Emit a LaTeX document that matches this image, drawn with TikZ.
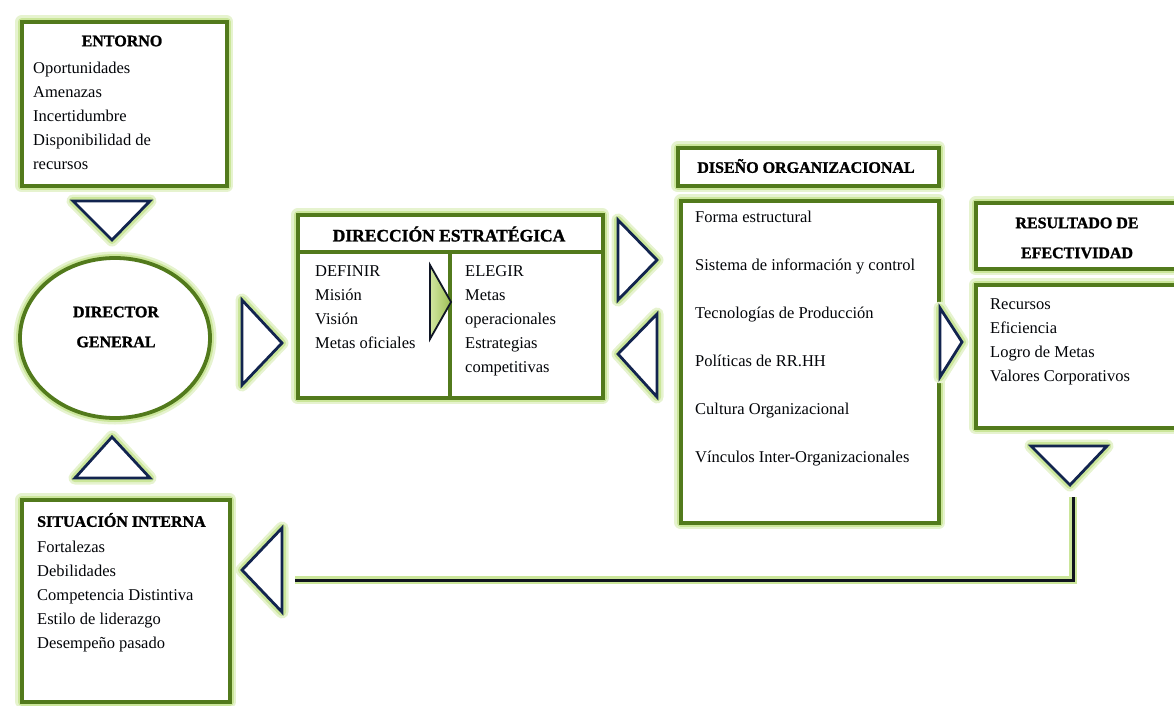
\documentclass[tikz,border=0pt]{standalone}
\usepackage{fontspec}
\setmainfont{Liberation Serif}
\newfontfamily\headfont{Liberation Serif}[BoldFeatures={FakeBold=1.3}]
\usetikzlibrary{shapes.geometric}
\definecolor{olivebd}{HTML}{527A1C}
\definecolor{glowc}{HTML}{CBE69A}
\definecolor{glowd}{HTML}{E6F3CF}
\definecolor{navy}{HTML}{12244F}
\definecolor{trilight}{HTML}{D2E6A0}
\definecolor{tridark}{HTML}{9DBF55}
\definecolor{linec}{HTML}{10141E}
\begin{document}
\begin{tikzpicture}[x=1pt,y=-1pt,
  glowing/.style={preaction={draw=glowd, line width=13pt, line join=round},
                  preaction={draw=glowc, line width=8pt, line join=round}},
  box/.style={draw=olivebd, line width=3.6pt, fill=white, glowing, rectangle, inner sep=0pt, anchor=north west},
  tri/.style={draw=navy, line width=2.8pt, fill=white, line join=miter, glowing},
  head/.style={font=\headfont\fontsize{16}{30}\selectfont\bfseries, inner sep=0pt, align=center},
  body/.style={font=\fontsize{16.5}{24}\selectfont, align=left, inner sep=0pt, anchor=north west, text=black!90!navy},
  feed/.style={draw=linec, line width=3pt, preaction={draw=glowc, line width=8pt}}
]
\useasboundingbox (0,0) rectangle (1174,706);

% ---------- boxes ----------
\node[box, minimum width=205, minimum height=164] (entorno) at (20,20) {};
\node[box, minimum width=208, minimum height=202] (situ) at (20,498) {};
\node[box, minimum width=305, minimum height=183] (dirE) at (296,213) {};
\node[box, minimum width=261, minimum height=38] (doHead) at (676,146) {};
\node[box, minimum width=258, minimum height=322] (doMain) at (679,199) {};
\node[box, minimum width=210, minimum height=66] (reHead) at (974,201) {};
\node[box, minimum width=210, minimum height=143] (reMain) at (974,283) {};
\node[ellipse, draw=olivebd, line width=3.8pt, fill=white, glowing, minimum width=190, minimum height=160, inner sep=0pt] (dir) at (115,338) {};

% dividers of Direccion Estrategica
\draw[olivebd, line width=3.6pt] (dirE.north west |- 0,252) -- (dirE.north east |- 0,252);
\draw[olivebd, line width=3.6pt] (450,252) -- (450,396);

% ---------- texts ----------
\node[head] (entT) at (122,41) {ENTORNO};
\node[body] (entB) at (33,62) {Oportunidades\\Amenazas\\Incertidumbre\\Disponibilidad de\\recursos};

\node[head] (dirT) at (116,327) {DIRECTOR\\GENERAL};

\node[head, anchor=west] (situT) at (37,520) {SITUACIÓN INTERNA};
\node[body] (situB) at (37,541) {Fortalezas\\Debilidades\\Competencia Distintiva\\Estilo de liderazgo\\Desempeño pasado};

\node[head, font=\headfont\fontsize{17.5}{20}\selectfont\bfseries] (dirET) at (449,234) {DIRECCIÓN ESTRATÉGICA};
\node[body] (defB) at (315,265.5) {DEFINIR\\Misión\\Visión\\Metas oficiales};
\node[body] (eleB) at (465,265.5) {ELEGIR\\Metas\\operacionales\\Estrategias\\competitivas};

\node[head] (doT) at (806,166) {DISEÑO ORGANIZACIONAL};
\node[body, font=\fontsize{16.5}{48}\selectfont] (doB) at (695,210.5) {Forma estructural\\Sistema de información y control\\Tecnologías de Producción\\Políticas de RR.HH\\Cultura Organizacional\\Vínculos Inter-Organizacionales};

\node[head] (reT) at (1077,238) {RESULTADO DE\\EFECTIVIDAD};
\node[body] (reB) at (990,298.5) {Recursos\\Eficiencia\\Logro de Metas\\Valores Corporativos};

% ---------- triangles ----------
\draw[tri] (73,201) -- (150,201) -- (112,240) -- cycle;
\draw[tri] (242,300) -- (242,385) -- (282,343) -- cycle;
\draw[tri] (75,478) -- (150,478) -- (112,437) -- cycle;
\draw[tri] (282,528) -- (282,612) -- (242,570) -- cycle;
\draw[draw=linec!85!navy, line width=1.8pt, left color=trilight, right color=tridark, line join=miter] (430,265) -- (430,339) -- (451,302) -- cycle;
\draw[tri] (618,220) -- (618,300) -- (657,260) -- cycle;
\draw[tri] (657,314) -- (657,397) -- (618,354) -- cycle;
\draw[tri] (940,308) -- (940,377) -- (962,342) -- cycle;
\draw[tri] (1031,446) -- (1107,446) -- (1070,485) -- cycle;

% ---------- feedback line ----------
\coordinate (fbTop) at (1073,497);
\coordinate (fbEnd) at (295,580);
\draw[feed] (fbTop) |- (fbEnd);
\end{tikzpicture}
\end{document}
